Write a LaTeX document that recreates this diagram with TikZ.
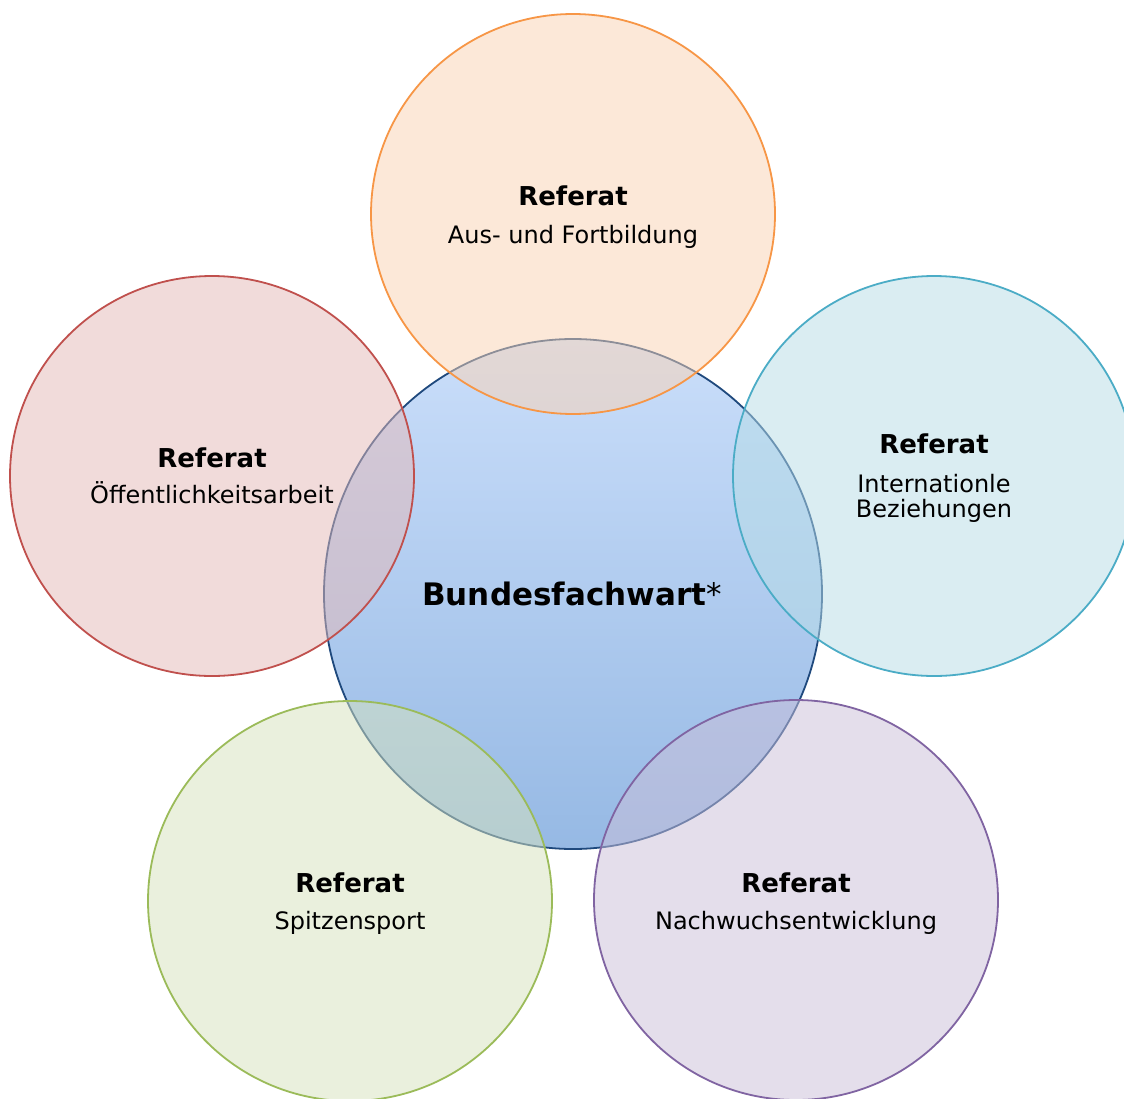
\documentclass[tikz,border=0pt]{standalone}
\usepackage{fontspec}
\setmainfont{DejaVu Sans}
\definecolor{orgF}{RGB}{251,211,179}
\definecolor{orgL}{RGB}{247,150,70}
\definecolor{redF}{RGB}{229,185,183}
\definecolor{redL}{RGB}{192,80,77}
\definecolor{cyaF}{RGB}{183,221,231}
\definecolor{cyaL}{RGB}{75,172,198}
\definecolor{grnF}{RGB}{215,227,189}
\definecolor{grnL}{RGB}{155,187,89}
\definecolor{vioF}{RGB}{203,191,217}
\definecolor{vioL}{RGB}{128,100,162}
\definecolor{ctrTop}{RGB}{202,222,250}
\definecolor{ctrBot}{RGB}{150,185,228}
\definecolor{ctrL}{RGB}{31,73,125}
\tikzset{
  ring/.style={line width=1.8pt, fill opacity=0.5, draw opacity=1},
  head/.style={anchor=base, font=\fontsize{26}{30}\selectfont\bfseries},
  sub/.style={anchor=base, font=\fontsize{24}{25}\selectfont},
}
\begin{document}
\begin{tikzpicture}[x=1pt,y=-1pt]
\useasboundingbox[fill=white] (0,0) rectangle (1124,1098);
% centre
\shade[top color=ctrTop, bottom color=ctrBot] (573,594) ellipse [x radius=249, y radius=255];
\draw[ctrL, line width=1.8pt] (573,594) ellipse [x radius=249, y radius=255];
% surrounding
\draw[ring, draw=orgL, fill=orgF] (573,214) ellipse [x radius=202, y radius=200];
\draw[ring, draw=redL, fill=redF] (212,476) ellipse [x radius=202, y radius=200];
\draw[ring, draw=cyaL, fill=cyaF] (934,476) ellipse [x radius=201, y radius=200];
\draw[ring, draw=grnL, fill=grnF] (350,901) ellipse [x radius=202, y radius=200];
\draw[ring, draw=vioL, fill=vioF] (796,900) ellipse [x radius=202, y radius=200];
% texts
\node[anchor=base, font=\fontsize{31}{34}\selectfont] (ctr) at (572,605) {\textbf{Bundesfachwart}*};
\node[head] (t1) at (573,205) {Referat};
\node[sub] (t2) at (573,243) {Aus- und Fortbildung};
\node[head] (l1) at (212,467) {Referat};
\node[sub] (l2) at (212,503) {Öffentlichkeitsarbeit};
\node[head] (r1) at (934,453) {Referat};
\node[sub] (r2) at (934,492) {Internationle};
\node[sub] (r3) at (934,517) {Beziehungen};
\node[head] (bl1) at (350,892) {Referat};
\node[sub] (bl2) at (350,929) {Spitzensport};
\node[head] (br1) at (796,892) {Referat};
\node[sub] (br2) at (796,929) {Nachwuchsentwicklung};
\end{tikzpicture}
\end{document}
